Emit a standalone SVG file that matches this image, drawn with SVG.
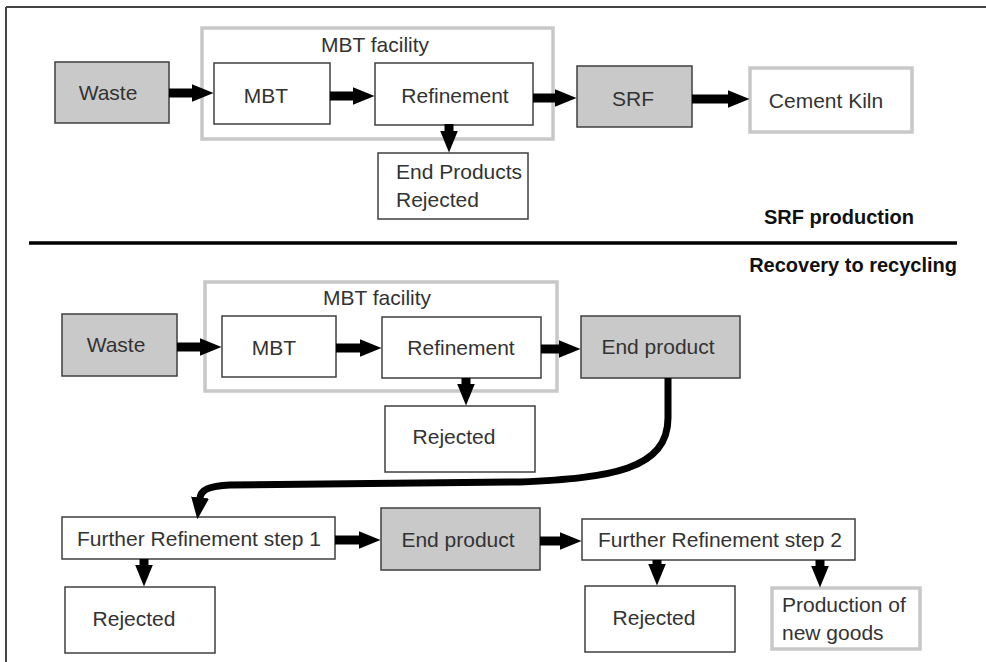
<svg xmlns="http://www.w3.org/2000/svg" width="986" height="662" viewBox="0 0 986 662">
<style>
.t{font-family:"Liberation Sans",Arial,sans-serif;font-size:21px;fill:#333;}
.b{font-family:"Liberation Sans",Arial,sans-serif;font-size:20px;font-weight:bold;fill:#111;}
.box{fill:#fff;stroke:#3f3f3f;stroke-width:1.5;}
.gray{fill:#c9c9c9;stroke:#3f3f3f;stroke-width:1.5;}
.light{fill:none;stroke:#c8c8c8;stroke-width:3.5;}
.lightw{fill:#fff;stroke:#c8c8c8;stroke-width:3.5;}
.arr{fill:none;stroke:#000;stroke-width:9;marker-end:url(#ah);}
.curve{fill:none;stroke:#000;stroke-width:7;marker-end:url(#ah);}
</style>
<defs>
<marker id="ah" markerUnits="userSpaceOnUse" markerWidth="22" markerHeight="18" viewBox="0 0 22 18" refX="0.5" refY="9" orient="auto">
<path d="M0,0 L22,9 L0,18 Z" fill="#000"/>
</marker>
</defs>
<rect width="986" height="662" fill="#fff"/>
<g id="frame" stroke="#444" stroke-width="2" fill="none">
<line x1="6" y1="7" x2="986" y2="7"/>
<line x1="6" y1="7" x2="6" y2="662"/>
</g>
<g id="top-mbt-facility"><rect class="lightw" x="202" y="28" width="351" height="111"/><text class="t" x="375" y="52" text-anchor="middle">MBT facility</text></g>
<g id="top-waste"><rect class="gray" x="55" y="62" width="114" height="61"/><text class="t" x="108" y="100" text-anchor="middle">Waste</text></g>
<g id="top-mbt"><rect class="box" x="214" y="63" width="116" height="61"/><text class="t" x="266" y="103" text-anchor="middle">MBT</text></g>
<g id="top-refinement"><rect class="box" x="375" y="63" width="158" height="62"/><text class="t" x="455" y="103" text-anchor="middle">Refinement</text></g>
<g id="top-srf"><rect class="gray" x="577" y="66" width="115" height="61"/><text class="t" x="633" y="106" text-anchor="middle">SRF</text></g>
<g id="top-kiln"><rect class="lightw" x="750" y="68" width="162" height="64"/><text class="t" x="826" y="108" text-anchor="middle">Cement Kiln</text></g>
<g id="top-end-products"><rect class="box" x="378" y="153" width="150" height="66"/><text class="t" x="396" y="179">End Products</text><text class="t" x="396" y="207">Rejected</text></g>
<g id="title-srf"><text class="b" x="764" y="224">SRF production</text></g>
<g id="separator"><line x1="29" y1="243" x2="957" y2="243" stroke="#000" stroke-width="3.5"/></g>
<g id="title-recovery"><text class="b" x="957" y="272" text-anchor="end">Recovery to recycling</text></g>
<g id="bot-mbt-facility"><rect class="lightw" x="205" y="282" width="352" height="109"/><text class="t" x="377" y="305" text-anchor="middle">MBT facility</text></g>
<g id="bot-waste"><rect class="gray" x="62" y="314" width="115" height="62"/><text class="t" x="116" y="352" text-anchor="middle">Waste</text></g>
<g id="bot-mbt"><rect class="box" x="222" y="316" width="114" height="61"/><text class="t" x="274" y="355" text-anchor="middle">MBT</text></g>
<g id="bot-refinement"><rect class="box" x="382" y="317" width="159" height="61"/><text class="t" x="461" y="355" text-anchor="middle">Refinement</text></g>
<g id="bot-end-product"><rect class="gray" x="581" y="316" width="159" height="62"/><text class="t" x="658" y="354" text-anchor="middle">End product</text></g>
<g id="bot-rejected"><rect class="box" x="385" y="406" width="150" height="66"/><text class="t" x="454" y="444" text-anchor="middle">Rejected</text></g>
<g id="fr1"><rect class="box" x="62" y="517" width="273" height="42"/><text class="t" x="199" y="546" text-anchor="middle">Further Refinement step 1</text></g>
<g id="end-product-2"><rect class="gray" x="381" y="508" width="159" height="62"/><text class="t" x="458" y="547" text-anchor="middle">End product</text></g>
<g id="fr2"><rect class="box" x="582" y="519" width="273" height="41"/><text class="t" x="720" y="547" text-anchor="middle">Further Refinement step 2</text></g>
<g id="rejected-1"><rect class="box" x="65" y="587" width="150" height="66"/><text class="t" x="134" y="626" text-anchor="middle">Rejected</text></g>
<g id="rejected-2"><rect class="box" x="585" y="586" width="150" height="66"/><text class="t" x="654" y="625" text-anchor="middle">Rejected</text></g>
<g id="new-goods"><rect class="lightw" x="772" y="588" width="148" height="61"/><text class="t" x="782" y="612">Production of</text><text class="t" x="782" y="640">new goods</text></g>
<g id="connectors">
<path class="arr" d="M169,93 H192"/>
<path class="arr" d="M330,96 H353"/>
<path class="arr" d="M533,98 H555"/>
<path class="arr" d="M692,99 H728"/>
<path class="arr" d="M449,124 V131"/>
<path class="arr" d="M177,347 H200"/>
<path class="arr" d="M336,348 H360"/>
<path class="arr" d="M541,349 H559"/>
<path class="arr" d="M466,378 V384"/>
<path class="curve" d="M668,378 L668,418 C668,470 610,478 520,482 L230,485 C208,486 201,490 200,498"/>
<path class="arr" d="M335,540 H359"/>
<path class="arr" d="M540,541 H560"/>
<path class="arr" d="M144,559 V565"/>
<path class="arr" d="M657,560 V564"/>
<path class="arr" d="M820,560 V566"/>
</g>
</svg>
